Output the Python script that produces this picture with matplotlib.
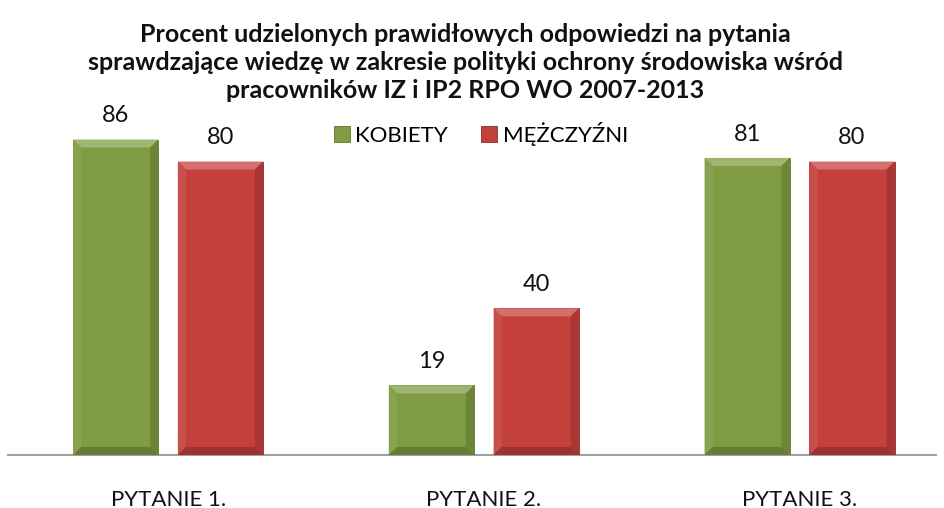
import numpy as np
import matplotlib
matplotlib.use('Agg')
import matplotlib.pyplot as plt
from matplotlib.patches import Polygon
from matplotlib.colors import to_rgb

plt.rcParams['font.family'] = ['Lato', 'DejaVu Sans']

title = ('Procent udzielonych prawidłowych odpowiedzi na pytania\n'
         'sprawdzające wiedzę w zakresie polityki ochrony środowiska wśród\n'
         'pracowników IZ i IP2 RPO WO 2007-2013')
categories = ['PYTANIE 1.', 'PYTANIE 2.', 'PYTANIE 3.']
kobiety = [86, 19, 81]
mezczyzni = [80, 40, 80]
series_names = ['KOBIETY', 'MĘŻCZYŹNI']

green = '#7F9C42'
red = '#C4403D'


def shade(c, f):
    r, g, b = to_rgb(c)
    if f > 1:
        return tuple(v + (1 - v) * (f - 1) for v in (r, g, b))
    return tuple(v * f for v in (r, g, b))


def bevel(ax, rect, color):
    # fake excel-ish bevel: light top/left, dark bottom/right
    x0, y0 = rect.get_x(), rect.get_y()
    x1, y1 = x0 + rect.get_width(), y0 + rect.get_height()
    dx, dy = 0.026, 2.2
    dy = min(dy, (y1 - y0) / 2)
    faces = [
        ([(x0, y1), (x1, y1), (x1 - dx, y1 - dy), (x0 + dx, y1 - dy)], 1.25),
        ([(x0, y0), (x0, y1), (x0 + dx, y1 - dy), (x0 + dx, y0 + dy)], 1.07),
        ([(x1, y0), (x1, y1), (x1 - dx, y1 - dy), (x1 - dx, y0 + dy)], 0.85),
        ([(x0, y0), (x1, y0), (x1 - dx, y0 + dy), (x0 + dx, y0 + dy)], 0.8),
    ]
    for pts, f in faces:
        ax.add_patch(Polygon(pts, closed=True, facecolor=shade(color, f),
                             edgecolor='none', zorder=4))


fig = plt.figure(figsize=(9.44, 5.08), dpi=100)
# axes: x from 8px to 936px, baseline at y=455px, top at y=130px
ax = fig.add_axes([8/944, (508-455)/508, (936-8)/944, (455-130)/508])

x = np.arange(len(categories))
w = 0.27
off = 0.166
b1 = ax.bar(x - off, kobiety, w, color=green, edgecolor='#5E7530', linewidth=0.6,
            label=series_names[0], zorder=3)
b2 = ax.bar(x + off, mezczyzni, w, color=red, edgecolor='#8E2C2A', linewidth=0.6,
            label=series_names[1], zorder=3)

for bars, vals, col in ((b1, kobiety, green), (b2, mezczyzni, red)):
    for r, v in zip(bars, vals):
        bevel(ax, r, col)
        ax.text(r.get_x() + r.get_width()/2, v + 4.7, str(v), ha='center', va='baseline',
                fontsize=17, color='#111111')

ax.set_xlim(-0.507, 2.432)
ax.set_ylim(0, 88.6)
ax.set_yticks([])
ax.set_xticks(x)
ax.set_xticklabels(categories, fontsize=16, color='#111111')
ax.tick_params(axis='x', length=0, pad=25)
for s in ('top', 'right', 'left'):
    ax.spines[s].set_visible(False)
ax.spines['bottom'].set_color('#A0A0A0')
ax.spines['bottom'].set_linewidth(1.5)

fig.text(465/944, 0.877, title, ha='center', va='center', fontsize=18, fontweight='bold',
         linespacing=1.25, color='#111111')

leg = ax.legend(loc='center', bbox_to_anchor=(481/944, 1 - 134/508),
                bbox_transform=fig.transFigure, ncol=2, frameon=False,
                fontsize=16, handlelength=0.7, handleheight=0.7, handletextpad=0.25,
                columnspacing=1.5, borderpad=0)

fig.savefig('out.png', dpi=100)
